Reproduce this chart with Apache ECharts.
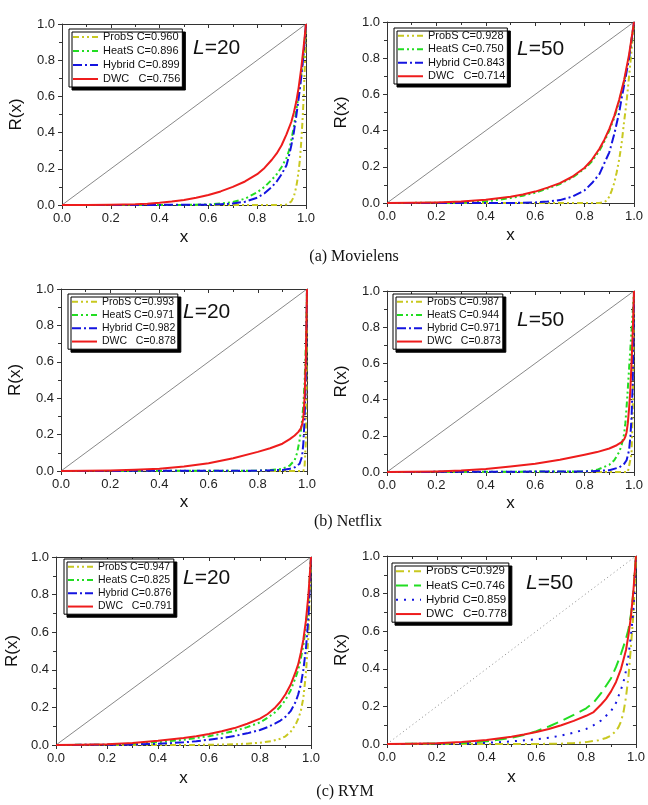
<!DOCTYPE html>
<html><head><meta charset="utf-8">
<script src="https://cdn.jsdelivr.net/npm/echarts@6/dist/echarts.min.js"></script>
<style>html,body{margin:0;padding:0;background:#fff}#c{width:648px;height:805px}</style>
</head><body><div id="c"></div>
<script>
// ---------- DATA ----------
const tickLabels = ['0.0','0.2','0.4','0.6','0.8','1.0'];
const methods = ['ProbS','HeatS','Hybrid','DWC'];
const captions = ['(a) Movielens','(b) Netflix','(c) RYM'];
const lengths = ['20','50','20','50','20','50'];
// coefficients C shown in legends
const C_ml20 = ['0.960','0.896','0.899','0.756'];
const C_ml50 = ['0.928','0.750','0.843','0.714'];
const C_nf20 = ['0.993','0.971','0.982','0.878'];
const C_nf50 = ['0.987','0.944','0.971','0.873'];
const C_rym20 = ['0.947','0.825','0.876','0.791'];
const C_rym50 = ['0.929','0.746','0.859','0.778'];
const diagonal = [[0,0],[1,1]];

// Movielens L=20
const ml20_probs = [[0,0],[0.9,0],[0.92,0.003],[0.93,0.01],[0.94,0.02],[0.95,0.045],[0.96,0.1],[0.965,0.14],[0.97,0.19],[0.975,0.25],[0.98,0.34],[0.985,0.45],[0.99,0.58],[0.995,0.76],[1,1]];
const ml20_heats = [[0,0],[0.5,0],[0.6,0.003],[0.65,0.008],[0.7,0.016],[0.75,0.035],[0.8,0.07],[0.83,0.1],[0.86,0.14],[0.88,0.17],[0.9,0.21],[0.92,0.26],[0.93,0.3],[0.94,0.36],[0.95,0.43],[0.96,0.52],[0.97,0.61],[0.98,0.71],[0.99,0.83],[1,1]];
const ml20_hybrid = [[0,0],[0.6,0.001],[0.65,0.004],[0.7,0.008],[0.75,0.018],[0.8,0.04],[0.83,0.065],[0.86,0.1],[0.88,0.13],[0.9,0.17],[0.92,0.22],[0.93,0.27],[0.94,0.33],[0.95,0.4],[0.96,0.49],[0.97,0.59],[0.98,0.7],[0.99,0.83],[1,1]];
const ml20_dwc = [[0,0],[0.1,0],[0.2,0.001],[0.3,0.004],[0.35,0.007],[0.4,0.012],[0.45,0.019],[0.5,0.028],[0.55,0.04],[0.6,0.055],[0.65,0.075],[0.7,0.1],[0.75,0.13],[0.8,0.17],[0.83,0.205],[0.86,0.25],[0.88,0.285],[0.9,0.33],[0.92,0.39],[0.94,0.46],[0.95,0.51],[0.96,0.57],[0.97,0.65],[0.98,0.75],[0.99,0.87],[1,1]];
// Movielens L=50
const ml50_probs = [[0,0],[0.86,0],[0.88,0.005],[0.89,0.015],[0.9,0.035],[0.91,0.07],[0.92,0.11],[0.93,0.17],[0.94,0.24],[0.95,0.33],[0.96,0.45],[0.97,0.56],[0.98,0.7],[0.99,0.84],[1,1]];
const ml50_heats = [[0,0],[0.3,0.002],[0.4,0.009],[0.5,0.027],[0.55,0.04],[0.6,0.057],[0.65,0.08],[0.7,0.105],[0.75,0.14],[0.8,0.19],[0.83,0.23],[0.86,0.29],[0.88,0.34],[0.9,0.4],[0.92,0.47],[0.94,0.56],[0.96,0.67],[0.98,0.8],[0.99,0.9],[1,1]];
const ml50_hybrid = [[0,0],[0.5,0],[0.6,0.003],[0.65,0.008],[0.7,0.016],[0.75,0.035],[0.8,0.07],[0.83,0.11],[0.86,0.16],[0.88,0.22],[0.9,0.28],[0.92,0.38],[0.94,0.5],[0.95,0.58],[0.96,0.65],[0.98,0.8],[0.99,0.9],[1,1]];
const ml50_dwc = [[0,0],[0.1,0.001],[0.2,0.003],[0.3,0.008],[0.4,0.018],[0.5,0.035],[0.55,0.047],[0.6,0.063],[0.65,0.085],[0.7,0.11],[0.75,0.145],[0.8,0.195],[0.83,0.24],[0.86,0.3],[0.88,0.35],[0.9,0.41],[0.92,0.48],[0.94,0.57],[0.96,0.68],[0.98,0.82],[0.99,0.91],[1,1]];
// Netflix L=20
const nf20_probs = [[0,0],[0.985,0],[0.99,0.02],[0.995,0.15],[0.998,0.45],[1,1]];
const nf20_heats = [[0,0],[0.8,0.002],[0.85,0.005],[0.9,0.012],[0.93,0.03],[0.95,0.06],[0.96,0.1],[0.97,0.17],[0.975,0.22],[0.98,0.28],[0.985,0.36],[0.99,0.48],[0.995,0.68],[1,1]];
const nf20_hybrid = [[0,0],[0.8,0.002],[0.9,0.006],[0.93,0.012],[0.95,0.02],[0.97,0.04],[0.98,0.08],[0.985,0.15],[0.99,0.28],[0.995,0.5],[1,1]];
const nf20_dwc = [[0,0],[0.1,0.001],[0.2,0.003],[0.3,0.007],[0.4,0.013],[0.5,0.025],[0.6,0.043],[0.7,0.07],[0.8,0.105],[0.85,0.125],[0.9,0.15],[0.93,0.175],[0.95,0.195],[0.965,0.215],[0.975,0.235],[0.98,0.255],[0.985,0.29],[0.99,0.4],[0.995,0.6],[1,1]];
// Netflix L=50
const nf50_probs = [[0,0],[0.975,0],[0.98,0.01],[0.99,0.1],[0.995,0.35],[1,1]];
const nf50_heats = [[0,0],[0.8,0.003],[0.85,0.012],[0.9,0.04],[0.92,0.065],[0.94,0.11],[0.95,0.15],[0.96,0.21],[0.965,0.27],[0.97,0.36],[0.975,0.46],[0.98,0.57],[0.99,0.78],[1,1]];
const nf50_hybrid = [[0,0],[0.8,0.003],[0.9,0.01],[0.94,0.025],[0.96,0.045],[0.97,0.065],[0.98,0.12],[0.985,0.19],[0.99,0.3],[0.995,0.5],[1,1]];
const nf50_dwc = [[0,0],[0.1,0.001],[0.2,0.003],[0.3,0.008],[0.4,0.017],[0.5,0.03],[0.6,0.046],[0.7,0.068],[0.8,0.095],[0.85,0.11],[0.9,0.13],[0.93,0.148],[0.95,0.165],[0.96,0.18],[0.965,0.195],[0.97,0.22],[0.975,0.27],[0.98,0.35],[0.985,0.45],[0.99,0.6],[0.995,0.78],[1,1]];
// RYM L=20
const rym20_probs = [[0,0],[0.5,0],[0.6,0.001],[0.7,0.004],[0.75,0.007],[0.8,0.012],[0.85,0.022],[0.88,0.033],[0.9,0.046],[0.92,0.07],[0.94,0.11],[0.95,0.14],[0.96,0.18],[0.97,0.25],[0.98,0.38],[0.99,0.58],[1,1]];
const rym20_heats = [[0,0],[0.2,0.002],[0.3,0.007],[0.4,0.015],[0.5,0.028],[0.55,0.037],[0.6,0.047],[0.65,0.06],[0.7,0.075],[0.75,0.095],[0.8,0.12],[0.83,0.145],[0.86,0.175],[0.88,0.205],[0.9,0.24],[0.92,0.29],[0.94,0.36],[0.95,0.4],[0.96,0.46],[0.97,0.53],[0.98,0.63],[0.99,0.77],[1,1]];
const rym20_hybrid = [[0,0],[0.3,0.002],[0.4,0.006],[0.5,0.014],[0.55,0.02],[0.6,0.028],[0.65,0.037],[0.7,0.048],[0.75,0.062],[0.8,0.08],[0.83,0.095],[0.86,0.115],[0.88,0.13],[0.9,0.15],[0.92,0.18],[0.94,0.23],[0.95,0.27],[0.96,0.32],[0.97,0.4],[0.98,0.51],[0.99,0.68],[1,1]];
const rym20_dwc = [[0,0],[0.1,0.001],[0.2,0.004],[0.3,0.011],[0.4,0.022],[0.5,0.037],[0.55,0.047],[0.6,0.059],[0.65,0.073],[0.7,0.09],[0.75,0.113],[0.8,0.14],[0.83,0.165],[0.86,0.2],[0.88,0.23],[0.9,0.27],[0.92,0.32],[0.94,0.39],[0.95,0.43],[0.96,0.49],[0.97,0.56],[0.98,0.66],[0.99,0.8],[1,1]];
// RYM L=50
const rym50_probs = [[0,0],[0.6,0],[0.7,0.002],[0.75,0.005],[0.8,0.01],[0.85,0.02],[0.88,0.032],[0.9,0.045],[0.92,0.07],[0.93,0.09],[0.94,0.12],[0.95,0.17],[0.96,0.25],[0.97,0.36],[0.98,0.52],[0.99,0.7],[1,1]];
const rym50_heats = [[0,0],[0.3,0.004],[0.4,0.014],[0.5,0.033],[0.55,0.048],[0.6,0.068],[0.65,0.093],[0.7,0.122],[0.75,0.155],[0.8,0.19],[0.83,0.22],[0.86,0.27],[0.88,0.31],[0.9,0.35],[0.92,0.41],[0.94,0.48],[0.95,0.52],[0.96,0.56],[0.97,0.61],[0.98,0.69],[0.99,0.81],[1,1]];
const rym50_hybrid = [[0,0],[0.3,0.002],[0.4,0.006],[0.5,0.014],[0.6,0.025],[0.65,0.033],[0.7,0.045],[0.75,0.06],[0.8,0.08],[0.83,0.1],[0.86,0.125],[0.88,0.15],[0.9,0.175],[0.92,0.22],[0.94,0.29],[0.95,0.33],[0.96,0.39],[0.97,0.47],[0.98,0.58],[0.99,0.72],[1,1]];
const rym50_dwc = [[0,0],[0.1,0.001],[0.2,0.004],[0.3,0.01],[0.4,0.021],[0.5,0.038],[0.55,0.05],[0.6,0.064],[0.65,0.08],[0.7,0.1],[0.75,0.123],[0.8,0.15],[0.83,0.17],[0.86,0.21],[0.88,0.24],[0.9,0.28],[0.92,0.33],[0.94,0.4],[0.95,0.45],[0.96,0.5],[0.97,0.58],[0.98,0.68],[0.99,0.82],[1,1]];

// ---------- LAYOUT / STYLE ----------
const FONT = 'Arial, "Liberation Sans", sans-serif';
const COLORS = ['#c8c820', '#22dd22', '#1414e0', '#ee1c1c'];
const DASH_STD = [[6,3,2,3,2,3],[6,3,2,3,2,3],[9,3,2,3],'solid'];
const DASH_RYM50 = [[8,4,2,4],[12,6],[2,6],'solid'];

const panels = [
  {grid:{left:62,top:24,width:244,height:181}, C:C_ml20, data:[ml20_probs,ml20_heats,ml20_hybrid,ml20_dwc], dash:DASH_STD, diagType:'solid',
   Lpos:[193,38], leg:{left:69,top:29,fs:11,pitch:14}, nameGapY:37, nameGapX:24},
  {grid:{left:387,top:22,width:247,height:181}, C:C_ml50, data:[ml50_probs,ml50_heats,ml50_hybrid,ml50_dwc], dash:DASH_STD, diagType:'solid',
   Lpos:[517,39], leg:{left:394,top:28,fs:11,pitch:13.5}, nameGapY:37, nameGapX:24},
  {grid:{left:61,top:289,width:246,height:182}, C:C_nf20, data:[nf20_probs,nf20_heats,nf20_hybrid,nf20_dwc], dash:DASH_STD, diagType:'solid',
   Lpos:[183,302], leg:{left:68,top:294,fs:10.5,pitch:13.3}, nameGapY:37, nameGapX:23},
  {grid:{left:387,top:291,width:247,height:181}, C:C_nf50, data:[nf50_probs,nf50_heats,nf50_hybrid,nf50_dwc], dash:DASH_STD, diagType:'solid',
   Lpos:[517,310], leg:{left:393,top:294,fs:10.5,pitch:13.3}, nameGapY:37, nameGapX:23},
  {grid:{left:56,top:557,width:255,height:188}, C:C_rym20, data:[rym20_probs,rym20_heats,rym20_hybrid,rym20_dwc], dash:DASH_STD, diagType:'solid',
   Lpos:[183,568], leg:{left:64,top:559,fs:10.5,pitch:13.3}, nameGapY:35, nameGapX:25},
  {grid:{left:387,top:556,width:255,height:188}, C:C_rym50, data:[rym50_probs,rym50_heats,rym50_hybrid,rym50_dwc], dash:DASH_RYM50, diagType:[1,3],
   Lpos:[526,573], leg:{left:392,top:563,fs:11.5,pitch:14.3}, nameGapY:37, nameGapX:25}
];
const captionPos = [[354,257],[348,522],[345,792]];

function legendName(m, c) {
  return m === 'DWC' ? 'DWC   C=' + c : m + ' C=' + c;
}
const fmt = v => tickLabels[Math.round(v / 0.2)] ?? '';

const option = {
  backgroundColor: '#fff',
  animation: false,
  grid: [], xAxis: [], yAxis: [], series: [], legend: [], title: [], graphic: []
};

panels.forEach((p, i) => {
  option.grid.push(Object.assign({containLabel:false}, p.grid));
  const common = {min:0, max:1, interval:0.2, gridIndex:i, splitLine:{show:false},
    axisLine:{show:true, onZero:false, lineStyle:{color:'#333', width:1}}};
  const tick = (inside) => ({axisTick:{inside:inside, length:4, lineStyle:{color:'#333'}},
    minorTick:{show:true, splitNumber:2, length:3, lineStyle:{color:'#333'}}});
  option.xAxis.push(Object.assign({}, common, tick(false), {type:'value', position:'bottom',
    name:'x', nameLocation:'middle', nameGap:p.nameGapX,
    nameTextStyle:{fontFamily:FONT, fontSize:17, color:'#111'},
    axisLabel:{fontFamily:FONT, fontSize:13, color:'#222', margin:7, formatter:fmt}}));
  option.xAxis.push(Object.assign({}, common, tick(true), {type:'value', position:'top', axisLabel:{show:false}}));
  option.yAxis.push(Object.assign({}, common, tick(false), {type:'value', position:'left',
    name:'R(x)', nameLocation:'middle', nameGap:p.nameGapY, nameRotate:90,
    nameTextStyle:{fontFamily:FONT, fontSize:17, color:'#111'},
    axisLabel:{fontFamily:FONT, fontSize:13, color:'#222', margin:7, formatter:fmt}}));
  option.yAxis.push(Object.assign({}, common, tick(true), {type:'value', position:'right', axisLabel:{show:false}}));

  option.series.push({type:'line', name:'diag'+i, xAxisIndex:2*i, yAxisIndex:2*i, data:diagonal,
    symbol:'none', silent:true, lineStyle:{color:'#555', width:0.7, type:p.diagType}});
  const names = [];
  methods.forEach((m, k) => {
    const nm = legendName(m, p.C[k]);
    names.push(nm);
    option.series.push({type:'line', name:nm, xAxisIndex:2*i, yAxisIndex:2*i, data:p.data[k],
      symbol:'none', smooth:false, color:COLORS[k],
      lineStyle:{color:COLORS[k], width:2, type:p.dash[k], join:'round'}, z:3+k});
  });
  option.legend.push({data:names, orient:'vertical', left:p.leg.left, top:p.leg.top,
    itemWidth:25, itemHeight:10, itemGap:0, padding:[1,2,1,3],
    backgroundColor:'#fff', borderColor:'#000', borderWidth:1, borderRadius:0,
    shadowColor:'#000', shadowBlur:0, shadowOffsetX:3, shadowOffsetY:3,
    selectedMode:false, itemStyle:{opacity:0, borderWidth:0},
    textStyle:{fontFamily:FONT, fontSize:p.leg.fs, lineHeight:p.leg.pitch, color:'#111'}, z:10});
  option.title.push({text:'{i|L}=' + lengths[i], left:p.Lpos[0], top:p.Lpos[1], padding:0,
    textStyle:{fontFamily:FONT, fontSize:21, fontWeight:'normal', color:'#111',
      rich:{i:{fontFamily:FONT, fontSize:21, fontStyle:'italic', color:'#111'}}}});
});

captions.forEach((t, j) => {
  option.graphic.push({type:'text', x:captionPos[j][0], y:captionPos[j][1],
    style:{text:t, font:'16px "Liberation Serif", "Times New Roman", serif', fill:'#111',
      textAlign:'center', textVerticalAlign:'middle'}});
});

const chart = echarts.init(document.getElementById('c'), null, {renderer:'canvas'});
chart.setOption(option);
</script>
</body></html>
